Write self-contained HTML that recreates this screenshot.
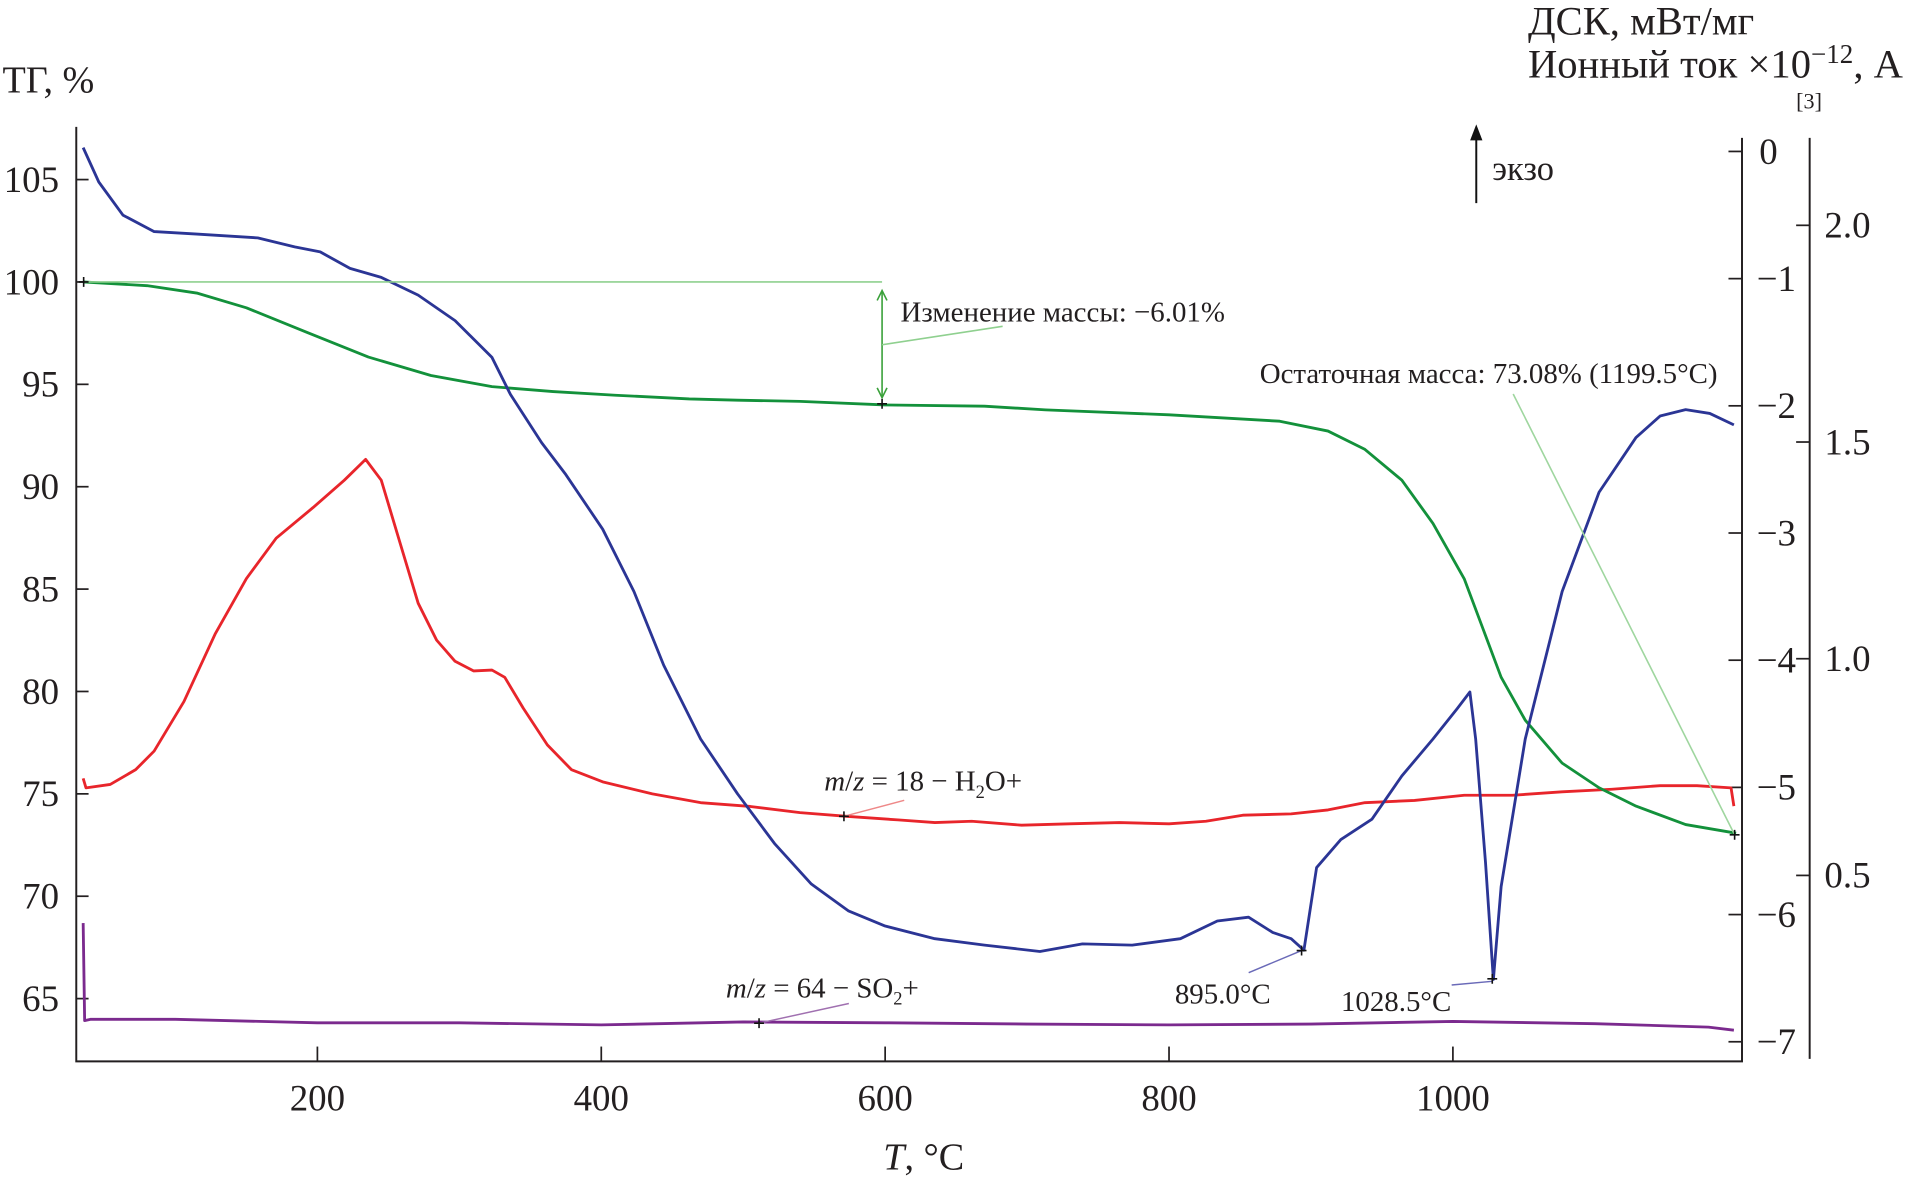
<!DOCTYPE html>
<html><head><meta charset="utf-8"><style>
html,body{margin:0;padding:0;background:#fff;}
svg{display:block;}
text{font-family:"Liberation Serif","DejaVu Serif",serif;fill:#231f20;}
</style></head><body>
<svg id="chart" width="1929" height="1182" viewBox="0 0 1568 960" preserveAspectRatio="none" xmlns="http://www.w3.org/2000/svg">
<g id="axes"></g>
<g id="series"></g>
<g id="ann"></g>
</svg>
<script>
const xTicks=[200,400,600,800,1000];
const tgTicks=[105,100,95,90,85,80,75,70,65];
const dscTicks=[0,-1,-2,-3,-4,-5,-6,-7];
const ionTicks=[2.0,1.5,1.0,0.5];
const dscT=[35,46,63,85,115,158,184,202,223,245,271,297,323,336,358,375,401,423,444,470,496,522,548,574,600,635,670,709,739,774,808,834,856,873,886,895,904,921,943,964,986,1003,1012,1016,1023,1028.5,1034,1051,1077,1103,1129,1146,1164,1181,1198];
const dscV=[0.03,-0.24,-0.50,-0.63,-0.65,-0.68,-0.75,-0.79,-0.92,-0.99,-1.13,-1.33,-1.62,-1.91,-2.29,-2.54,-2.97,-3.46,-4.04,-4.62,-5.05,-5.44,-5.76,-5.97,-6.09,-6.19,-6.24,-6.29,-6.23,-6.24,-6.19,-6.05,-6.02,-6.14,-6.19,-6.28,-5.63,-5.41,-5.25,-4.91,-4.62,-4.38,-4.25,-4.62,-5.59,-6.51,-5.78,-4.62,-3.46,-2.68,-2.25,-2.08,-2.03,-2.06,-2.15];
const tgT=[35,80,115,150,193,236,280,323,366,410,462,496,540,600,670,713,800,878,912,938,964,986,1008,1021,1034,1051,1077,1103,1129,1164,1199.5];
const tgV=[100,99.82,99.46,98.74,97.53,96.33,95.43,94.89,94.65,94.47,94.29,94.23,94.17,93.99,93.93,93.75,93.51,93.2,92.72,91.82,90.32,88.21,85.5,83.1,80.7,78.6,76.5,75.3,74.4,73.5,73.08];
const h2oT=[35,37,54,72,85,106,128,150,171,197,219,234,245,258,271,284,297,310,323,332,345,362,379,401,436,470,505,540,574,609,635,661,696,730,765,800,826,852,886,912,938,973,1008,1042,1077,1112,1146,1172,1196,1198];
const h2oV=[0.724,0.702,0.710,0.744,0.787,0.901,1.057,1.185,1.278,1.349,1.412,1.460,1.412,1.270,1.128,1.043,0.994,0.972,0.974,0.957,0.886,0.801,0.744,0.716,0.688,0.668,0.659,0.645,0.636,0.628,0.622,0.625,0.616,0.619,0.622,0.619,0.625,0.639,0.642,0.651,0.668,0.673,0.685,0.685,0.693,0.699,0.707,0.707,0.702,0.66];
const so2T=[35,36,40,100,200,300,400,500,600,700,800,900,1000,1100,1180,1198];
const so2V=[0.39,0.165,0.168,0.168,0.160,0.160,0.155,0.162,0.160,0.157,0.155,0.157,0.163,0.158,0.150,0.143];

const X=t=>258+(t-200)*1.15375;
const Ytg=v=>229+(100-v)*16.63;
const Ydsc=v=>123-v*103.3;
const Yion=v=>183+(2-v)*352;
const NS='http://www.w3.org/2000/svg';
function mk(p,tag,at,txt){const e=document.createElementNS(NS,tag);for(const k in at)e.setAttribute(k,at[k]);if(txt!==undefined)e.textContent=txt;p.appendChild(e);return e;}
const axes=document.getElementById('axes'),ser=document.getElementById('series'),ann=document.getElementById('ann');
const ST='#231f20';
let e;
e=mk(axes,'path',{d:'M62,103 V862 H1416 V112',fill:'none',stroke:ST,'stroke-width':1.6});


e=mk(axes,'line',{x1:1471,y1:112,x2:1471,y2:860,stroke:ST,'stroke-width':1.6});


xTicks.forEach(t=>{
 mk(axes,'line',{x1:X(t),y1:862,x2:X(t),y2:850,stroke:ST,'stroke-width':1.4});
 e=mk(axes,'text',{x:X(t),y:902,'font-size':30,'text-anchor':'middle'},t);
 
 
});
tgTicks.forEach(v=>{
 mk(axes,'line',{x1:62,y1:Ytg(v),x2:72,y2:Ytg(v),stroke:ST,'stroke-width':1.4});
 e=mk(axes,'text',{x:48,y:Ytg(v)+10,'font-size':30,'text-anchor':'end'},v);
 
 
});
dscTicks.forEach(v=>{
 mk(axes,'line',{x1:1405,y1:Ydsc(v),x2:1416,y2:Ydsc(v),stroke:ST,'stroke-width':1.4});
 e=mk(axes,'text',{x:v===0?1430:1428,y:Ydsc(v)+10,'font-size':30},v===0?'0':'\u2212'+(-v));
 
 
});
ionTicks.forEach(v=>{
 mk(axes,'line',{x1:1460,y1:Yion(v),x2:1471,y2:Yion(v),stroke:ST,'stroke-width':1.4});
 e=mk(axes,'text',{x:1483,y:Yion(v)+10,'font-size':30},v.toFixed(1));
 
 
});
e=mk(axes,'text',{x:2,y:75,'font-size':31},'ТГ, %');


e=mk(axes,'text',{x:1242,y:28,'font-size':33},'ДСК, мВт/мг');


e=mk(axes,'text',{x:1242,y:63,'font-size':33});
e.innerHTML='Ионный ток ×10<tspan dy="-12" font-size="22">−12</tspan><tspan dy="12">, А</tspan>';


e=mk(axes,'text',{x:1460,y:88,'font-size':18},'[3]');


e=mk(axes,'text',{x:718,y:950,'font-size':31});
e.innerHTML='<tspan font-style="italic">T</tspan>, °C';



function line(T,V,Y,color,name){
 const d=T.map((t,i)=>(i?'L':'M')+X(t).toFixed(1)+','+Y(V[i]).toFixed(1)).join('');
 const p=mk(ser,'path',{d:d,fill:'none',stroke:color,'stroke-width':2.3,'stroke-linejoin':'round'});
 
 
}
mk(ann,'line',{x1:68,y1:Ytg(100),x2:717,y2:Ytg(100),stroke:'#8fd08f','stroke-width':1.3});
mk(ann,'line',{x1:717,y1:237,x2:717,y2:322,stroke:'#3aa13a','stroke-width':1.3});
mk(ann,'path',{d:'M713,244 L717,236 L721,244 M713,315 L717,323 L721,315',fill:'none',stroke:'#3aa13a','stroke-width':1.3});
mk(ann,'line',{x1:717,y1:280,x2:815,y2:265,stroke:'#8fd08f','stroke-width':1.3});
mk(ann,'line',{x1:1230,y1:320,x2:1410,y2:678,stroke:'#9fd69f','stroke-width':1.3});
mk(ann,'line',{x1:1015,y1:790,x2:1058,y2:772,stroke:'#6a6ab8','stroke-width':1.2});
mk(ann,'line',{x1:1180,y1:800,x2:1213,y2:797,stroke:'#6a6ab8','stroke-width':1.2});
mk(ann,'line',{x1:686,y1:663,x2:735,y2:650,stroke:'#e88','stroke-width':1.2});
mk(ann,'line',{x1:617,y1:831,x2:690,y2:815,stroke:'#a070b0','stroke-width':1.2});

line(so2T,so2V,Yion,'#7b2a8e','so2-ion-current-line');
line(h2oT,h2oV,Yion,'#e8252b','h2o-ion-current-line');
line(tgT,tgV,Ytg,'#13913b','tg-mass-line');
line(dscT,dscV,Ydsc,'#2b3595','dsc-heat-flow-line');

[[68,229],[717,328],[1410,678],[1058,772],[1213,795],[686,663],[617,831]].forEach(p=>{
 mk(ann,'path',{d:`M${p[0]-4},${p[1]} h8 M${p[0]},${p[1]-4} v8`,stroke:'#111','stroke-width':1.3});
});
function lab(x,y,html,name){const t=mk(ann,'text',{x:x,y:y,'font-size':23.5});t.innerHTML=html;}
lab(732,261,'Изменение массы: −6.01%','mass-change-label');
lab(1024,311,'Остаточная масса: 73.08% (1199.5°C)','residual-mass-label');
lab(955,815,'895.0°C','peak-895-label');
lab(1090,821,'1028.5°C','peak-1028-label');
lab(670,642,'<tspan font-style="italic">m</tspan>/<tspan font-style="italic">z</tspan> = 18 − H<tspan dy="6" font-size="15">2</tspan><tspan dy="-6">O+</tspan>','h2o-label');
lab(590,810,'<tspan font-style="italic">m</tspan>/<tspan font-style="italic">z</tspan> = 64 − SO<tspan dy="6" font-size="15">2</tspan><tspan dy="-6">+</tspan>','so2-label');
mk(ann,'line',{x1:1200,y1:165,x2:1200,y2:110,stroke:'#111','stroke-width':1.6});
mk(ann,'path',{d:'M1195,114 L1200,101 L1205,114 Z',fill:'#111'});
lab(1213,146,'экзо','exo-label');
ann.lastChild.setAttribute('font-size','28');
</script>
</body></html>
